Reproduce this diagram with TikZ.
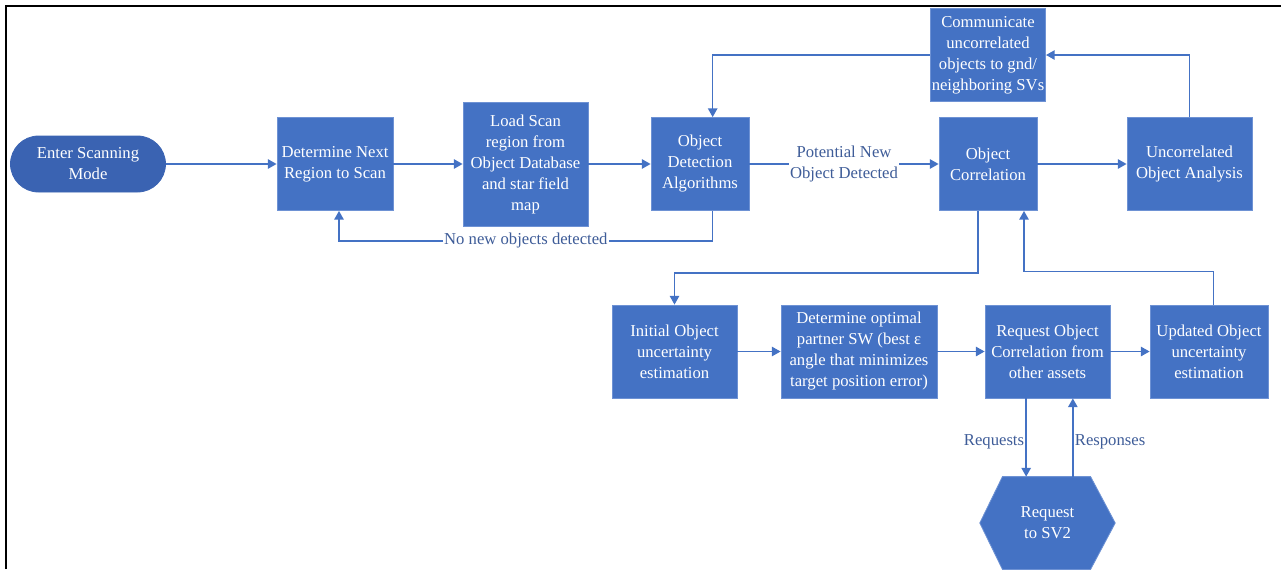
\documentclass[tikz,border=0pt]{standalone}
\usepackage{fontspec}
\setmainfont{Liberation Serif}
\usetikzlibrary{arrows.meta,backgrounds,calc}
\definecolor{boxfill}{RGB}{68,114,196}
\definecolor{boxline}{RGB}{110,146,212}
\definecolor{termfill}{RGB}{58,99,178}
\definecolor{lblcol}{RGB}{62,92,152}

\begin{document}
\begin{tikzpicture}[x=0.75pt,y=0.75pt,yscale=-1,xscale=1,
  blk/.style={draw=boxline,line width=0.6pt,fill=boxfill,text=white,align=center,inner sep=1pt,font=\fontsize{12.5}{15.75}\selectfont,minimum height=69.75pt},
  arr/.style={draw=boxfill,line width=1.1pt,-{Triangle[length=6.5pt,width=7pt]}},
  lbl/.style={text=lblcol,align=center,font=\fontsize{12.5}{15.75}\selectfont,inner sep=1pt}]
\useasboundingbox (0,0) rectangle (1281,569);

%Frame
\draw [line width=1.5pt] (6,569) -- (6,6) -- (1281,6) ;

%Shape: Terminal
\node [blk,fill=termfill,draw=termfill,rounded corners=21pt,minimum width=116.25pt,minimum height=42pt] (enter) at (88,164) {Enter Scanning\\Mode};
% Top row
\node [blk,minimum width=87pt] (nextreg) at (335,164) {Determine Next\\Region to Scan};
\node [blk,minimum width=93.75pt,minimum height=93pt] (loadscan) at (525.5,164) {Load Scan\\region from\\Object Database\\and star field\\map};
\node [blk,minimum width=73.5pt] (detect) at (700,164) {Object\\Detection\\Algorithms};
\node [blk,minimum width=73.5pt] (correl) at (988,164) {Object\\Correlation};
\node [blk,minimum width=93.75pt] (uncorr) at (1189.5,164) {Uncorrelated\\Object Analysis};
\node [blk,minimum width=73.5pt] (comm) at (988,55) {Communicate\\uncorrelated\\objects to gnd/\\neighboring SVs};
% Bottom row
\node [blk,minimum width=93.75pt] (initial) at (674.5,351.5) {Initial Object\\uncertainty\\estimation};
\node [blk,minimum width=117pt] (partner) at (859,351.5) {Determine optimal\\partner SW (best ε\\angle that minimizes\\target position error)};
\node [blk,minimum width=93.75pt] (reqcorr) at (1047.5,351.5) {Request Object\\Correlation from\\other assets};
\node [blk,minimum width=88.5pt] (updated) at (1209,351.5) {Updated Object\\uncertainty\\estimation};
%Shape: Hexagon
\node [blk,draw=none,fill=none,minimum width=101pt,minimum height=69pt] (sv2) at (1047.5,523) {Request\\to SV2};
\begin{pgfonlayer}{background}
\draw [draw=boxline,line width=0.6pt,fill=boxfill] (sv2.west) -- ([xshift=17pt]sv2.north west) -- ([xshift=-18.5pt]sv2.north east) -- (sv2.east) -- ([xshift=-18.5pt]sv2.south east) -- ([xshift=17pt]sv2.south west) -- cycle ;
\end{pgfonlayer}

%Straight Lines
\draw [arr] (enter) -- (nextreg) ;
\draw [arr] (nextreg) -- (loadscan) ;
\draw [arr] (loadscan) -- (detect) ;
\draw [arr] (detect) -- node [lbl,fill=white] {Potential New\\Object Detected} (correl) ;
\draw [arr] (correl) -- (uncorr) ;
\draw [arr] ([xshift=9.5pt]detect.south) -- ++(0,30) -| node [lbl,fill=white,pos=0.25] {No new objects detected} ([xshift=3pt]nextreg.south) ;
\draw [arr] (uncorr.north) |- (comm.east) ;
\draw [arr] (comm.west) -| ([xshift=9.5pt]detect.north) ;
\draw [arr] ([xshift=-7.5pt]correl.south) -- ++(0,62) -| (initial.north) ;
\draw [arr] ([xshift=3.5pt]updated.north) -- ++(0,-33) -| ([xshift=27pt]correl.south) ;
\draw [arr] (initial) -- (partner) ;
\draw [arr] (partner) -- (reqcorr) ;
\draw [arr] (reqcorr) -- (updated) ;
\coordinate (rqout) at ([xshift=-16pt]reqcorr.south) ;
\coordinate (rqin) at ([xshift=19pt]reqcorr.south) ;
\draw [arr] (rqout) -- node [lbl,left,pos=0.55] {Requests} (rqout |- sv2.north) ;
\draw [arr] (rqin |- sv2.north) -- node [lbl,right,pos=0.45] {Responses} (rqin) ;

\end{tikzpicture}
\end{document}
